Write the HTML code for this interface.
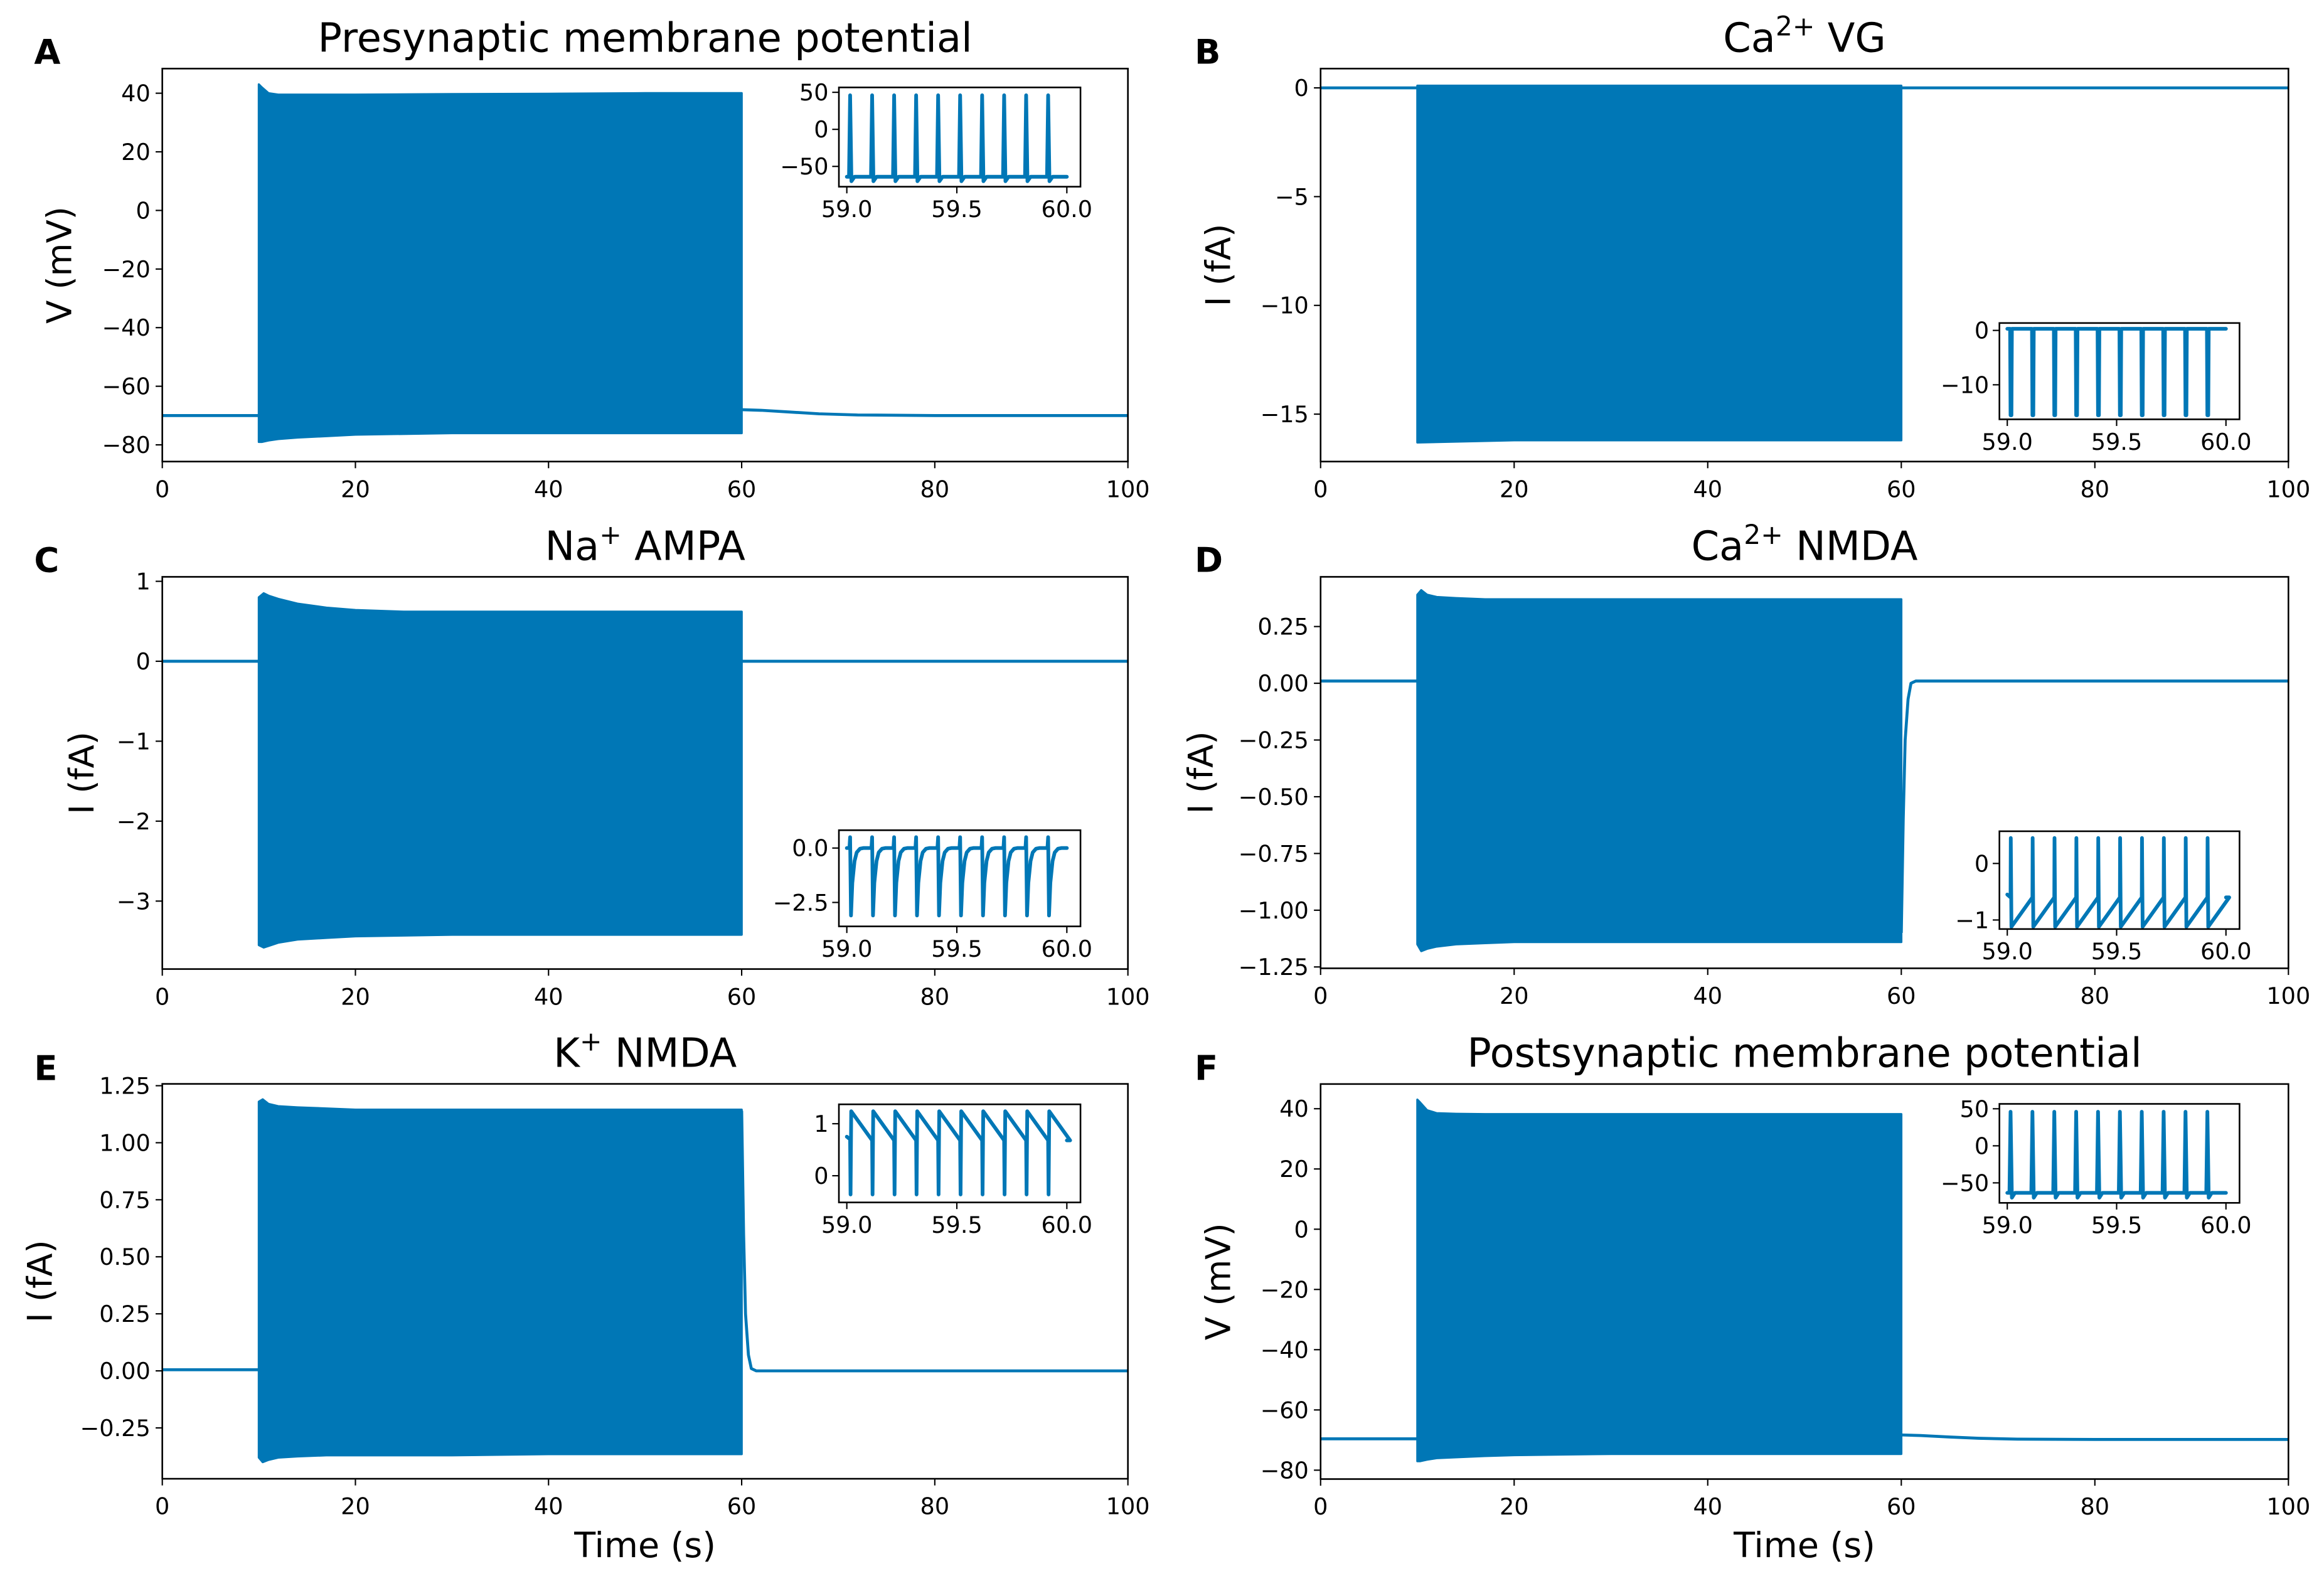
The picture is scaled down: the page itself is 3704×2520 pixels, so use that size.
<!DOCTYPE html>
<html><head><meta charset="utf-8">
<style>
html,body{margin:0;padding:0;background:#fff;}
svg{display:block;font-family:"DejaVu Sans","Liberation Sans",sans-serif;}
</style></head>
<body>
<svg id="fig" xmlns="http://www.w3.org/2000/svg" width="3704" height="2520" viewBox="0 0 1568 1067" preserveAspectRatio="none">
<rect x="0" y="0" width="1568" height="1067" fill="#fff"/>
</svg>
<script>
// ---------- data ----------
const mainTicksX = [0, 20, 40, 60, 80, 100];
const mainTickLabelsX = ["0", "20", "40", "60", "80", "100"];
const insetTicksX = [59.0, 59.5, 60.0];
const insetTickLabelsX = ["59.0", "59.5", "60.0"];
const spikeTimes = [59.015, 59.115, 59.215, 59.315, 59.415, 59.515, 59.615, 59.715, 59.815, 59.915];

// A presynaptic V
const aEnvT = [10, 10.3, 11, 12, 14, 17, 20, 30, 40, 50, 60];
const aUpper = [43, 42, 40, 39.5, 39.5, 39.5, 39.5, 39.7, 39.8, 40, 40];
const aLower = [-79, -79, -78.5, -78, -77.5, -77, -76.5, -76, -76, -76, -76];
const aPreT = [0, 10]; const aPreV = [-70, -70];
const aPostT = [60, 62, 65, 68, 72, 80, 100]; const aPostV = [-68, -68.2, -68.8, -69.4, -69.8, -70, -70];
const aTicksY = [40, 20, 0, -20, -40, -60, -80];
const aTickLabelsY = ["40", "20", "0", "\u221220", "\u221240", "\u221260", "\u221280"];
const aInsetOff = [-0.005, 0, 0.006, 0.02]; const aInsetVal = [-64, 46, -70, -64];
const aInsetTicksY = [50, 0, -50]; const aInsetLabelsY = ["50", "0", "\u221250"];

// B Ca VG
const bEnvT = [10, 20, 40, 60];
const bUpper = [0.1, 0.1, 0.1, 0.1];
const bLower = [-16.3, -16.2, -16.2, -16.2];
const bPreT = [0, 10]; const bPreV = [0, 0];
const bPostT = [60, 100]; const bPostV = [0, 0];
const bTicksY = [0, -5, -10, -15];
const bTickLabelsY = ["0", "\u22125", "\u221210", "\u221215"];
const bInsetOff = [-0.002, 0, 0.004, 0.006]; const bInsetVal = [0.3, -15.6, -15.6, 0.3];
const bInsetTicksY = [0, -10]; const bInsetLabelsY = ["0", "\u221210"];

// C Na AMPA
const cEnvT = [10, 10.5, 11, 12, 14, 17, 20, 25, 30, 40, 50, 60];
const cUpper = [0.8, 0.85, 0.82, 0.78, 0.72, 0.67, 0.64, 0.62, 0.62, 0.62, 0.62, 0.62];
const cLower = [-3.55, -3.58, -3.56, -3.52, -3.48, -3.46, -3.44, -3.43, -3.42, -3.42, -3.42, -3.42];
const cPreT = [0, 10]; const cPreV = [0, 0];
const cPostT = [60, 100]; const cPostV = [0, 0];
const cTicksY = [1, 0, -1, -2, -3];
const cTickLabelsY = ["1", "0", "\u22121", "\u22122", "\u22123"];
const cInsetOff = [-0.003, 0, 0.004, 0.01, 0.02, 0.03, 0.045, 0.06]; const cInsetVal = [0, 0.5, -3.1, -1.6, -0.6, -0.2, -0.03, 0];
const cInsetTicksY = [0, -2.5]; const cInsetLabelsY = ["0.0", "\u22122.5"];

// D Ca NMDA
const dEnvT = [10, 10.4, 11, 12, 14, 17, 20, 30, 40, 50, 60];
const dUpper = [0.39, 0.41, 0.39, 0.38, 0.375, 0.37, 0.37, 0.37, 0.37, 0.37, 0.37];
const dLower = [-1.15, -1.18, -1.17, -1.16, -1.15, -1.145, -1.14, -1.14, -1.14, -1.14, -1.14];
const dPreT = [0, 10]; const dPreV = [0.01, 0.01];
const dPostT = [60, 60.2, 60.4, 60.7, 61, 61.5, 100]; const dPostV = [-1.1, -0.6, -0.25, -0.07, 0, 0.01, 0.01];
const dTicksY = [0.25, 0, -0.25, -0.5, -0.75, -1, -1.25];
const dTickLabelsY = ["0.25", "0.00", "\u22120.25", "\u22120.50", "\u22120.75", "\u22121.00", "\u22121.25"];
const dInsetOff = [0, 0.001, 0.004, 0.1]; const dInsetVal = [-0.6, 0.45, -1.12, -0.6];
const dInsetTicksY = [0, -1]; const dInsetLabelsY = ["0", "\u22121"];

// E K NMDA
const eEnvT = [10, 10.4, 11, 12, 14, 17, 20, 30, 40, 50, 60];
const eUpper = [1.18, 1.19, 1.17, 1.16, 1.155, 1.15, 1.145, 1.145, 1.145, 1.145, 1.145];
const eLower = [-0.38, -0.4, -0.39, -0.38, -0.375, -0.37, -0.37, -0.37, -0.365, -0.365, -0.365];
const ePreT = [0, 10]; const ePreV = [0.005, 0.005];
const ePostT = [60, 60.2, 60.4, 60.7, 61, 61.5, 100]; const ePostV = [1.14, 0.6, 0.25, 0.07, 0.01, 0, 0];
const eTicksY = [1.25, 1, 0.75, 0.5, 0.25, 0, -0.25];
const eTickLabelsY = ["1.25", "1.00", "0.75", "0.50", "0.25", "0.00", "\u22120.25"];
const eInsetOff = [0, 0.002, 0.005, 0.1]; const eInsetVal = [0.7, -0.36, 1.24, 0.68];
const eInsetTicksY = [1, 0]; const eInsetLabelsY = ["1", "0"];

// F postsynaptic V
const fEnvT = [10, 10.3, 11, 12, 14, 17, 20, 25, 30, 40, 50, 60];
const fUpper = [43, 42, 39.5, 38.5, 38.3, 38.2, 38.2, 38.2, 38.2, 38.2, 38.2, 38.2];
const fLower = [-77, -77, -76.5, -76, -75.7, -75.3, -75, -74.8, -74.6, -74.6, -74.6, -74.6];
const fPreT = [0, 10]; const fPreV = [-69.6, -69.6];
const fPostT = [60, 62, 65, 68, 72, 80, 100]; const fPostV = [-68.3, -68.5, -69, -69.4, -69.7, -69.8, -69.8];
const fTicksY = [40, 20, 0, -20, -40, -60, -80];
const fTickLabelsY = ["40", "20", "0", "\u221220", "\u221240", "\u221260", "\u221280"];
const fInsetOff = [-0.005, 0, 0.006, 0.02]; const fInsetVal = [-63.5, 46, -70, -63.5];
const fInsetTicksY = [50, 0, -50]; const fInsetLabelsY = ["50", "0", "\u221250"];

// ---------- drawing ----------
const NS = "http://www.w3.org/2000/svg";
const svg = document.getElementById("fig");
const COLOR = "#0077b6";
function mk(tag, attrs, parent) {
  const e = document.createElementNS(NS, tag);
  for (const k in attrs) e.setAttribute(k, attrs[k]);
  (parent || svg).appendChild(e);
  return e;
}
function scaler(d0, d1, p0, p1) { return v => p0 + (v - d0) / (d1 - d0) * (p1 - p0); }

function insetSeries(off, val, startVal) {
  const t = [59.0], v = [startVal];
  spikeTimes.forEach(s => { off.forEach((o, i) => { t.push(s + o); v.push(val[i]); }); });
  t.push(60.0); v.push(val[val.length - 1]);
  return [t, v];
}

function drawPanel(c) {
  const g = mk("g", {});
  
  
  const sx = scaler(0, 100, c.box[0], c.box[1]);
  const sy = scaler(c.ylim[0], c.ylim[1], c.box[3], c.box[2]);
  let pts = [];
  c.envT.forEach((t, i) => pts.push(sx(t) + "," + sy(c.upper[i])));
  for (let i = c.envT.length - 1; i >= 0; i--) pts.push(sx(c.envT[i]) + "," + sy(c.lower[i]));
  const band = mk("polygon", { points: pts.join(" "), fill: COLOR, stroke: COLOR, "stroke-width": 1.5, "stroke-linejoin": "round" }, g);
  
  
  const pre = mk("polyline", { points: c.preT.map((t, i) => sx(t) + "," + sy(c.preV[i])).join(" "), fill: "none", stroke: COLOR, "stroke-width": 2 }, g);
  
  
  const post = mk("polyline", { points: c.postT.map((t, i) => sx(t) + "," + sy(c.postV[i])).join(" "), fill: "none", stroke: COLOR, "stroke-width": 2, "stroke-linejoin": "round" }, g);
  
  
  const fr = mk("rect", { x: c.box[0], y: c.box[2], width: c.box[1] - c.box[0], height: c.box[3] - c.box[2], fill: "none", stroke: "#000", "stroke-width": 1.1 }, g);
  
  
  mainTicksX.forEach((t, i) => {
    const x = sx(t);
    mk("line", { x1: x, x2: x, y1: c.box[3], y2: c.box[3] + 4.5, stroke: "#000", "stroke-width": 0.9 }, g);
    const tx = mk("text", { x: x, y: c.box[3] + 24, "font-size": 15.5, "text-anchor": "middle", fill: "#000" }, g);
    tx.textContent = mainTickLabelsX[i];
    
    
  });
  c.ticksY.forEach((v, i) => {
    const y = sy(v);
    mk("line", { x1: c.box[0] - 4.5, x2: c.box[0], y1: y, y2: y, stroke: "#000", "stroke-width": 0.9 }, g);
    const ty = mk("text", { x: c.box[0] - 8, y: y + 5.5, "font-size": 15.5, "text-anchor": "end", fill: "#000" }, g);
    ty.textContent = c.tickLabelsY[i];
    
    
  });
  const cx = (c.box[0] + c.box[1]) / 2;
  const ti = mk("text", { x: cx, y: c.titleY, "font-size": 27, "text-anchor": "middle", fill: "#000" }, g);
  
  
  c.title.forEach(seg => {
    const ts = mk("tspan", seg.sup ? { "font-size": 18, dy: -11 } : (seg.after ? { dy: 11 } : {}), ti);
    ts.textContent = seg.t;
  });
  const yl = mk("text", { x: 0, y: 0, "font-size": 23, "text-anchor": "middle", fill: "#000", transform: "translate(" + (c.ylabelX + 8) + "," + ((c.box[2] + c.box[3]) / 2) + ") rotate(-90)" }, g);
  yl.textContent = c.ylabel;
  
  
  const lt = mk("text", { x: c.letterX, y: c.letterY, "font-size": 23, "font-weight": "bold", fill: "#000" }, g);
  lt.textContent = c.letter;
  
  
  if (c.xlabel) {
    const xl = mk("text", { x: cx, y: 1051, "font-size": 23.5, "text-anchor": "middle", fill: "#000" }, g);
    xl.textContent = "Time (s)";
    
    
  }
  const ib = c.ibox;
  const ig = mk("g", {}, g);
  
  
  mk("rect", { x: ib[0], y: ib[2], width: ib[1] - ib[0], height: ib[3] - ib[2], fill: "#fff", stroke: "none" }, ig);
  const isx = scaler(58.964, 60.062, ib[0], ib[1]);
  const isy = scaler(c.iylim[0], c.iylim[1], ib[3], ib[2]);
  const [it, iv] = insetSeries(c.ioff, c.ival, c.istart);
  const il = mk("polyline", { points: it.map((t, i) => isx(t) + "," + isy(iv[i])).join(" "), fill: "none", stroke: COLOR, "stroke-width": 2.5, "stroke-linejoin": "round", "stroke-linecap": "round" }, ig);
  
  
  mk("rect", { x: ib[0], y: ib[2], width: ib[1] - ib[0], height: ib[3] - ib[2], fill: "none", stroke: "#000", "stroke-width": 1.1 }, ig);
  insetTicksX.forEach((t, i) => {
    const x = isx(t);
    mk("line", { x1: x, x2: x, y1: ib[3], y2: ib[3] + 4.5, stroke: "#000", "stroke-width": 0.9 }, ig);
    const tx = mk("text", { x: x, y: ib[3] + 20.5, "font-size": 15.5, "text-anchor": "middle", fill: "#000" }, ig);
    tx.textContent = insetTickLabelsX[i];
    
    
  });
  c.iticksY.forEach((v, i) => {
    const y = isy(v);
    mk("line", { x1: ib[0] - 4.5, x2: ib[0], y1: y, y2: y, stroke: "#000", "stroke-width": 0.9 }, ig);
    const ty = mk("text", { x: ib[0] - 7, y: y + 5.5, "font-size": 15.5, "text-anchor": "end", fill: "#000" }, ig);
    ty.textContent = c.ilabelsY[i];
    
    
  });
}

const L = [109.5, 761], R = [891, 1544];
drawPanel({ name: "panel-a-presynaptic-potential", box: [L[0], L[1], 46.3, 311.5], ylim: [-85.7, 48.4],
  envT: aEnvT, upper: aUpper, lower: aLower, preT: aPreT, preV: aPreV, postT: aPostT, postV: aPostV,
  ticksY: aTicksY, tickLabelsY: aTickLabelsY, title: [{ t: "Presynaptic membrane potential" }], titleY: 35,
  ylabel: "V (mV)", ylabelX: 40, letter: "A", letterX: 23, letterY: 43,
  ibox: [566, 729, 59, 126], iylim: [-77.4, 56.6], ioff: aInsetOff, ival: aInsetVal, istart: -64, iticksY: aInsetTicksY, ilabelsY: aInsetLabelsY });
drawPanel({ name: "panel-b-ca-vg", box: [R[0], R[1], 46.3, 311.5], ylim: [-17.18, 0.886],
  envT: bEnvT, upper: bUpper, lower: bLower, preT: bPreT, preV: bPreV, postT: bPostT, postV: bPostV,
  ticksY: bTicksY, tickLabelsY: bTickLabelsY, title: [{ t: "Ca" }, { t: "2+", sup: true }, { t: " VG", after: true }], titleY: 35,
  ylabel: "I (fA)", ylabelX: 822, letter: "B", letterX: 806, letterY: 43,
  ibox: [1349, 1511, 218, 283], iylim: [-16.35, 1.36], ioff: bInsetOff, ival: bInsetVal, istart: 0.3, iticksY: bInsetTicksY, ilabelsY: bInsetLabelsY });
drawPanel({ name: "panel-c-na-ampa", box: [L[0], L[1], 389.3, 654], ylim: [-3.85, 1.056],
  envT: cEnvT, upper: cUpper, lower: cLower, preT: cPreT, preV: cPreV, postT: cPostT, postV: cPostV,
  ticksY: cTicksY, tickLabelsY: cTickLabelsY, title: [{ t: "Na" }, { t: "+", sup: true }, { t: " AMPA", after: true }], titleY: 378,
  ylabel: "I (fA)", ylabelX: 55, letter: "C", letterX: 23, letterY: 386,
  ibox: [566, 729, 560.3, 625.2], iylim: [-3.6, 0.82], ioff: cInsetOff, ival: cInsetVal, istart: 0, iticksY: cInsetTicksY, ilabelsY: cInsetLabelsY });
drawPanel({ name: "panel-d-ca-nmda", box: [R[0], R[1], 389.3, 653.5], ylim: [-1.256, 0.469],
  envT: dEnvT, upper: dUpper, lower: dLower, preT: dPreT, preV: dPreV, postT: dPostT, postV: dPostV,
  ticksY: dTicksY, tickLabelsY: dTickLabelsY, title: [{ t: "Ca" }, { t: "2+", sup: true }, { t: " NMDA", after: true }], titleY: 378,
  ylabel: "I (fA)", ylabelX: 810, letter: "D", letterX: 806, letterY: 386,
  ibox: [1349, 1511, 561, 627], iylim: [-1.16, 0.57], ioff: dInsetOff, ival: dInsetVal, istart: -0.55, iticksY: dInsetTicksY, ilabelsY: dInsetLabelsY });
drawPanel({ name: "panel-e-k-nmda", box: [L[0], L[1], 731.5, 998], ylim: [-0.473, 1.258],
  envT: eEnvT, upper: eUpper, lower: eLower, preT: ePreT, preV: ePreV, postT: ePostT, postV: ePostV,
  ticksY: eTicksY, tickLabelsY: eTickLabelsY, title: [{ t: "K" }, { t: "+", sup: true }, { t: " NMDA", after: true }], titleY: 720,
  ylabel: "I (fA)", ylabelX: 27, letter: "E", letterX: 23, letterY: 729, xlabel: true,
  ibox: [566, 729, 745.3, 811.5], iylim: [-0.513, 1.373], ioff: eInsetOff, ival: eInsetVal, istart: 0.75, iticksY: eInsetTicksY, ilabelsY: eInsetLabelsY });
drawPanel({ name: "panel-f-postsynaptic-potential", box: [R[0], R[1], 731.6, 998.2], ylim: [-82.95, 48.2],
  envT: fEnvT, upper: fUpper, lower: fLower, preT: fPreT, preV: fPreV, postT: fPostT, postV: fPostV,
  ticksY: fTicksY, tickLabelsY: fTickLabelsY, title: [{ t: "Postsynaptic membrane potential" }], titleY: 720,
  ylabel: "V (mV)", ylabelX: 822, letter: "F", letterX: 806, letterY: 729, xlabel: true,
  ibox: [1349, 1511, 745, 811.8], iylim: [-77, 56.6], ioff: fInsetOff, ival: fInsetVal, istart: -63.5, iticksY: fInsetTicksY, ilabelsY: fInsetLabelsY });
</script>
</body></html>
